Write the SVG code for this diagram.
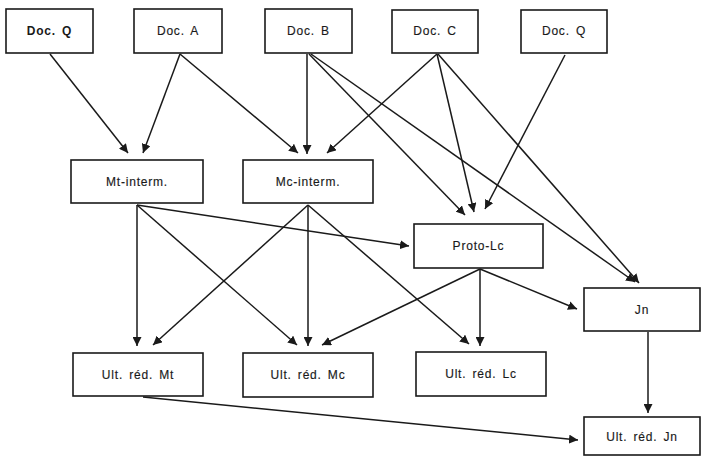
<svg xmlns="http://www.w3.org/2000/svg" width="711" height="456" viewBox="0 0 711 456">
<defs>
<marker id="ah" viewBox="0 0 10 10" refX="10" refY="5" markerWidth="9" markerHeight="9" markerUnits="userSpaceOnUse" orient="auto">
<path d="M0,0 L10,5 L0,10 Z" fill="#1a1a1a"/>
</marker>
</defs>
<style>
rect{fill:#fff;stroke:#1a1a1a;stroke-width:1.6}
text{font-family:"Liberation Sans",Arial,sans-serif;font-size:12px;letter-spacing:0.8px;word-spacing:2px;fill:#1a1a1a;stroke:#1a1a1a;stroke-width:0.15;text-anchor:middle;dominant-baseline:central}
.b{font-weight:bold;stroke-width:0}
#connectors line{stroke:#1a1a1a;stroke-width:1.5;fill:none;marker-end:url(#ah)}
</style>
<rect x="0" y="0" width="711" height="456" style="fill:#fff;stroke:none"/>
<g id="connectors">
<line x1="50" y1="54" x2="128" y2="153"/>
<line x1="180" y1="54" x2="143" y2="153"/>
<line x1="180" y1="54" x2="298" y2="153"/>
<line x1="307" y1="54" x2="307" y2="154"/>
<line x1="437" y1="54" x2="327" y2="153"/>
<line x1="309" y1="54" x2="465" y2="215"/>
<line x1="437" y1="54" x2="474" y2="212"/>
<line x1="565" y1="55" x2="485" y2="209"/>
<line x1="311" y1="54" x2="635" y2="282"/>
<line x1="438" y1="54" x2="639" y2="283"/>
<line x1="137" y1="205" x2="137" y2="346"/>
<line x1="137" y1="205" x2="297" y2="345"/>
<line x1="137" y1="205" x2="409" y2="246"/>
<line x1="308" y1="205" x2="153" y2="345"/>
<line x1="308" y1="205" x2="308" y2="346"/>
<line x1="308" y1="205" x2="469" y2="344"/>
<line x1="480" y1="269" x2="322" y2="345"/>
<line x1="480" y1="269" x2="480" y2="346"/>
<line x1="480" y1="269" x2="577" y2="309"/>
<line x1="648" y1="332" x2="648" y2="413"/>
<line x1="143" y1="397" x2="578" y2="440"/>
</g>
<g id="docQ1"><rect x="6" y="9" width="87" height="44"/><text class="b" x="49.5" y="31">Doc. Q</text></g>
<g id="docA"><rect x="134" y="9" width="88" height="44"/><text x="178" y="31">Doc. A</text></g>
<g id="docB"><rect x="265" y="9" width="87" height="44"/><text x="308.5" y="31">Doc. B</text></g>
<g id="docC"><rect x="392" y="10" width="86" height="43"/><text x="435" y="31">Doc. C</text></g>
<g id="docQ2"><rect x="521" y="10" width="86" height="43"/><text x="564" y="31">Doc. Q</text></g>
<g id="mtInterm"><rect x="71" y="160" width="132" height="43"/><text x="137" y="182">Mt-interm.</text></g>
<g id="mcInterm"><rect x="243" y="160" width="130" height="43"/><text x="308" y="182">Mc-interm.</text></g>
<g id="protoLc"><rect x="414" y="224" width="129" height="44"/><text x="478.5" y="246">Proto-Lc</text></g>
<g id="jn"><rect x="584" y="288" width="116" height="43"/><text x="642" y="310">Jn</text></g>
<g id="ultMt"><rect x="73" y="353" width="130" height="43"/><text x="138" y="375">Ult. réd. Mt</text></g>
<g id="ultMc"><rect x="243" y="353" width="130" height="44"/><text x="308" y="375">Ult. réd. Mc</text></g>
<g id="ultLc"><rect x="416" y="352" width="130" height="44"/><text x="481" y="374">Ult. réd. Lc</text></g>
<g id="ultJn"><rect x="584" y="417" width="116" height="38"/><text x="642" y="437">Ult. réd. Jn</text></g>
</svg>
